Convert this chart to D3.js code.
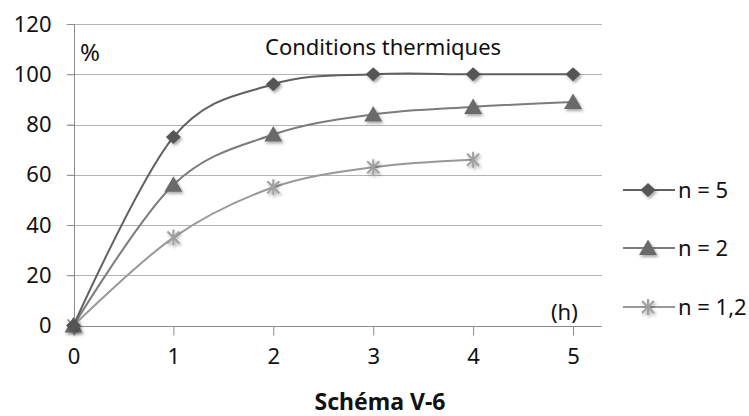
<!DOCTYPE html>
<html>
<head>
<meta charset="utf-8">
<script src="https://cdn.jsdelivr.net/npm/d3@7"></script>
<style>
  body { margin: 0; background: #fff; }
  svg { display: block; font-family: "Noto Sans", "Open Sans", sans-serif; }
  .grid line { stroke: #b3b3b3; stroke-width: 1; }
  .axis path, .axis line { stroke: #8c8c8c; }
</style>
</head>
<body>
<svg width="749" height="416"></svg>
<script>
var hours = [0, 1, 2, 3, 4, 5];
var n5 = [0, 75, 96, 100, 100, 100];
var n2 = [0, 56, 76, 84, 87, 89];
var n12 = [0, 35, 55, 63, 66];
var yTicks = [0, 20, 40, 60, 80, 100, 120];
var seriesNames = ["n = 5", "n = 2", "n = 1,2"];

var series = [
  {name: seriesNames[0], values: n5, line: "#606060", fill: "#555555", shape: "diamond"},
  {name: seriesNames[1], values: n2, line: "#7c7c7c", fill: "#6a6a6a", shape: "triangle"},
  {name: seriesNames[2], values: n12, line: "#989898", fill: "#a0a0a0", shape: "star"}
];

var svg = d3.select("svg");

var x = d3.scaleLinear().domain([0, 5.29]).range([73.5, 602]);
var y = d3.scaleLinear().domain([0, 120]).range([325.5, 24]);

var defs = svg.append("defs");
defs.append("filter")
    .attr("id", "shadow")
    .attr("x", "-50%").attr("y", "-50%").attr("width", "200%").attr("height", "200%")
  .append("feDropShadow")
    .attr("dx", 1.5).attr("dy", 2)
    .attr("stdDeviation", 1.5)
    .attr("flood-color", "#000")
    .attr("flood-opacity", 0.35);

// horizontal grid
svg.append("g")
    .attr("class", "grid")
  .selectAll("line")
  .data(yTicks.slice(1))
  .enter()
  .append("line")
    .attr("x1", x(0) - 7)
    .attr("x2", x.range()[1])
    .attr("y1", function(d) {return Math.round(y(d)) + 0.5;})
    .attr("y2", function(d) {return Math.round(y(d)) + 0.5;});

// y axis
var yAxis = svg.append("g")
    .attr("class", "axis")
    .attr("transform", "translate(" + (Math.round(x(0)) + 0.5) + ",0)")
    .call(d3.axisLeft(y).tickValues(yTicks).tickSize(7).tickPadding(16));
yAxis.select(".domain").attr("d", "M0," + y(120) + "V" + (y(0) + 9));

// x axis
var xAxis = svg.append("g")
    .attr("class", "axis")
    .attr("transform", "translate(0," + (Math.round(y(0)) + 0.5) + ")")
    .call(d3.axisBottom(x).tickValues(hours).tickSize(9).tickPadding(13).tickFormat(d3.format("d")));
xAxis.select(".domain").attr("d", "M" + x(0) + ",0H" + x.range()[1]);

svg.selectAll(".axis")
    .attr("font-family", null)
  .selectAll(".tick text")
    .style("font-size", "22px")
    .style("font-family", "'Noto Sans', sans-serif")
    .attr("fill", "#111");

var line = d3.line()
  .x(function(d, i) {return x(hours[i]);})
  .y(function(d) {return y(d);})
  .curve(d3.curveCardinal.tension(0));

function marker(g, shape, fill) {
  if (shape === "diamond") {
    g.append("path").attr("d", "M0,-7L7.5,0L0,7L-7.5,0Z").attr("fill", fill);
  } else if (shape === "triangle") {
    g.append("path").attr("d", "M0,-8.5L9,7L-9,7Z").attr("fill", fill);
  } else {
    g.append("path")
      .attr("d", "M-6,-6L6,6M-6,6L6,-6M0,-8V8")
      .attr("stroke", fill)
      .attr("stroke-width", 2)
      .attr("fill", "none");
  }
}

var groups = svg.selectAll(".series")
  .data(series.slice().reverse())
  .enter()
  .append("g")
    .attr("class", "series");

groups.append("path")
  .attr("fill", "none")
  .attr("stroke", function(d) {return d.line;})
  .attr("stroke-width", 2)
  .attr("d", function(d) {return line(d.values);});

groups.each(function(s) {
  d3.select(this).selectAll(".pt")
    .data(s.values)
    .enter()
    .append("g")
      .attr("class", "pt")
      .attr("filter", "url(#shadow)")
      .attr("transform", function(d, i) {return "translate(" + x(hours[i]) + "," + y(d) + ")";})
      .each(function() {marker(d3.select(this), s.shape, s.fill);});
});

// annotations
svg.append("text").attr("x", 80).attr("y", 61).style("font-size", "24px").attr("fill", "#111").text("%");
svg.append("text").attr("x", 265).attr("y", 55).style("font-size", "22px").attr("fill", "#111").text("Conditions thermiques");
svg.append("text").attr("x", 551).attr("y", 320).style("font-size", "22px").attr("fill", "#111").text("(h)");

// legend
var legendY = [190, 248, 307];
var legend = svg.selectAll(".legend")
  .data(series)
  .enter()
  .append("g")
    .attr("class", "legend")
    .attr("transform", function(d, i) {return "translate(623," + legendY[i] + ")";});
legend.append("line")
  .attr("x1", 0).attr("x2", 52)
  .attr("stroke", function(d) {return d.line;})
  .attr("stroke-width", 2);
legend.append("g")
  .attr("transform", "translate(25,0)")
  .attr("filter", "url(#shadow)")
  .each(function(d) {marker(d3.select(this), d.shape, d.fill);});
legend.append("text")
  .attr("x", 55).attr("dy", "0.35em")
  .style("font-size", "22px").attr("fill", "#111")
  .text(function(d) {return d.name;});

// caption
svg.append("text")
  .attr("x", 380).attr("y", 410)
  .attr("text-anchor", "middle")
  .style("font-size", "23px").attr("font-weight", "bold").attr("fill", "#111")
  .text("Schéma V-6");
</script>
</body>
</html>
